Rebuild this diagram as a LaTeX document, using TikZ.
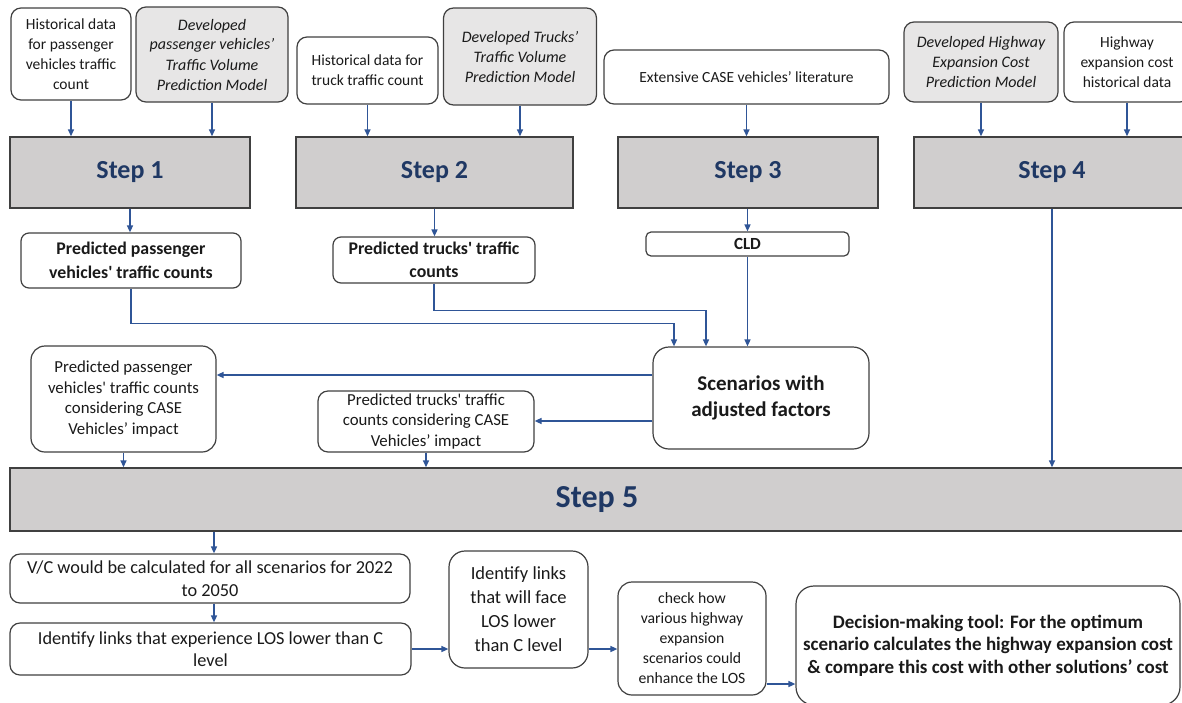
\documentclass[tikz,border=0pt]{standalone}
\usepackage{fontspec}
\setmainfont{Carlito}
\usetikzlibrary{arrows.meta}
\definecolor{stepfill}{HTML}{D0CECE}
\definecolor{modelfill}{HTML}{E7E6E6}
\definecolor{stepblue}{HTML}{1F3864}
\definecolor{flow}{HTML}{2F5597}
\definecolor{edge}{HTML}{404040}
\definecolor{ink}{HTML}{1A1A1A}

\begin{document}
\begin{tikzpicture}[x=1pt,y=-1pt,
  box/.style={draw=edge,line width=1.2pt,rounded corners=10pt,fill=white,
              align=center,inner sep=2pt,text=ink},
  src/.style={box,font=\fontsize{15.5}{20}\selectfont},
  model/.style={box,fill=modelfill,font=\fontsize{16}{20}\selectfont\itshape},
  result/.style={box,rounded corners=8pt,font=\fontsize{17.8}{23.5}\selectfont\bfseries},
  impact/.style={box,rounded corners=14pt,font=\fontsize{16.8}{20.5}\selectfont},
  plain/.style={box,font=\fontsize{18.3}{22.5}\selectfont},
  stepbox/.style={draw=edge,line width=1.4pt,fill=stepfill,text=stepblue,
                  inner sep=0pt,font=\bfseries\fontsize{26}{30}\selectfont},
  arr/.style={draw=flow,line width=1.5pt,-{Triangle[length=7pt,width=6pt]}}
]
\useasboundingbox (0,0) rectangle (1182,702);

% ---------- inputs ----------
\node[src,   minimum width=120pt, minimum height=92pt] (A1) at (71,54)
  {Historical data\\for passenger\\vehicles traffic\\count};
\node[model, minimum width=152pt, minimum height=95pt] (A2) at (212,54.5)
  {Developed\\passenger vehicles’\\Traffic Volume\\Prediction Model};
\node[src,   minimum width=141pt, minimum height=67pt] (B1) at (367.5,70.5)
  {Historical data for\\truck traffic count};
\node[model, minimum width=153pt, minimum height=97pt] (B2) at (520,56.5)
  {Developed Trucks’\\Traffic Volume\\Prediction Model};
\node[src,   minimum width=285pt, minimum height=54pt] (C1) at (746.5,77)
  {Extensive CASE vehicles’ literature};
\node[model, minimum width=154pt, minimum height=80pt] (D1) at (981,62)
  {Developed Highway\\Expansion Cost\\Prediction Model};
\node[src,   minimum width=126pt, minimum height=80pt] (E1) at (1127,62)
  {Highway\\expansion cost\\historical data};

% ---------- steps 1-4 ----------
\node[stepbox, minimum width=240pt, minimum height=71pt] (S1) at (130,172.5) {Step 1};
\node[stepbox, minimum width=277pt, minimum height=71pt] (S2) at (434.5,172.5) {Step 2};
\node[stepbox, minimum width=260pt, minimum height=71pt] (S3) at (748,172.5) {Step 3};
\node[stepbox, minimum width=276pt, minimum height=71pt] (S4) at (1052,172.5) {Step 4};

% ---------- intermediate results ----------
\node[result, minimum width=220pt, minimum height=55pt] (P1) at (131,260.5)
  {Predicted passenger\\vehicles\textquotesingle\ traffic counts};
\node[result, minimum width=202pt, minimum height=46pt] (P2) at (434,260)
  {Predicted trucks\textquotesingle\ traffic\\counts};
\node[result, rounded corners=5pt, minimum width=203pt, minimum height=24pt,
      inner sep=0pt, font=\fontsize{17}{18}\selectfont\bfseries] (CLD) at (747.5,244) {CLD};
\node[box, rounded corners=16pt, minimum width=216pt, minimum height=102pt,
      font=\fontsize{21}{26}\selectfont\bfseries] (SC) at (761,398)
  {Scenarios with\\adjusted factors};
\node[impact, minimum width=185pt, minimum height=106pt] (PP1) at (123.5,399)
  {Predicted passenger\\vehicles\textquotesingle\ traffic counts\\considering CASE\\Vehicles’ impact};
\node[impact, rounded corners=10pt, minimum width=216pt, minimum height=61pt] (PP2) at (426,421.5)
  {Predicted trucks\textquotesingle\ traffic\\counts considering CASE\\Vehicles’ impact};

% ---------- step 5 ----------
\node[stepbox, minimum width=1174pt, minimum height=63pt,
      font=\bfseries\fontsize{32}{36}\selectfont] (S5) at (597,499.5) {Step 5};

% ---------- evaluation chain ----------
\node[plain, minimum width=400pt, minimum height=49pt] (VC) at (210,578.5)
  {V/C would be calculated for all scenarios for 2022\\to 2050};
\node[plain, minimum width=401pt, minimum height=52pt] (ID) at (210.5,649)
  {Identify links that experience LOS lower than C\\level};
\node[box, rounded corners=16pt, minimum width=139pt, minimum height=117pt,
      font=\fontsize{18.5}{24}\selectfont] (IL) at (518.5,609.5)
  {Identify links\\that will face\\LOS lower\\than C level};
\node[box, rounded corners=14pt, minimum width=148pt, minimum height=113pt,
      font=\fontsize{15.7}{20}\selectfont] (CH) at (692,638.5)
  {check how\\various highway\\expansion\\scenarios could\\enhance the LOS};
\node[box, rounded corners=18pt, minimum width=384pt, minimum height=119pt,
      font=\fontsize{19}{22.5}\selectfont\bfseries] (DM) at (988,645.5)
  {Decision-making tool: For the optimum\\scenario calculates the highway expansion cost\\\& compare this cost with other solutions’ cost};

% ---------- connectors ----------
\draw[arr] (A1.south) -- (A1.south |- S1.north);
\draw[arr] (A2.south) -- (A2.south |- S1.north);
\draw[arr] (B1.south) -- (B1.south |- S2.north);
\draw[arr] (B2.south) -- (B2.south |- S2.north);
\draw[arr] (C1.south) -- (C1.south |- S3.north);
\draw[arr] (D1.south) -- (D1.south |- S4.north);
\draw[arr] (E1.south) -- (E1.south |- S4.north);

\draw[arr] (S1.south) -- (S1.south |- P1.north);
\draw[arr] (S2.south) -- (S2.south |- P2.north);
\draw[arr] (CLD.south |- S3.south) -- (CLD.north);
\draw[arr] (CLD.south) -- (CLD.south |- SC.north);

\draw[arr] (P1.south) -- ++(0,35) -| ([xshift=-87pt]SC.north);
\draw[arr] (P2.south) -- ++(0,27) -| ([xshift=-55pt]SC.north);

\draw[arr] ([yshift=23pt]SC.west) -- ([yshift=23pt]SC.west -| PP1.east);
\draw[arr] ([yshift=-23pt]SC.west) -- ([yshift=-23pt]SC.west -| PP2.east);

\draw[arr] (PP1.south) -- (PP1.south |- S5.north);
\draw[arr] (PP2.south) -- (PP2.south |- S5.north);
\draw[arr] (S4.south) -- (S4.south |- S5.north);

\draw[arr] ([xshift=4pt]VC.north |- S5.south) -- ([xshift=4pt]VC.north);
\draw[arr] ([xshift=4pt]VC.south) -- ([xshift=4pt]VC.south |- ID.north);
\draw[arr] (ID.east) -- (ID.east -| IL.west);
\draw[arr] ([yshift=-39.5pt]IL.east) -- ([yshift=-39.5pt]IL.east -| CH.west);
\draw[arr] ([yshift=-45.5pt]CH.east) -- ([yshift=-45.5pt]CH.east -| DM.west);
\end{tikzpicture}
\end{document}
